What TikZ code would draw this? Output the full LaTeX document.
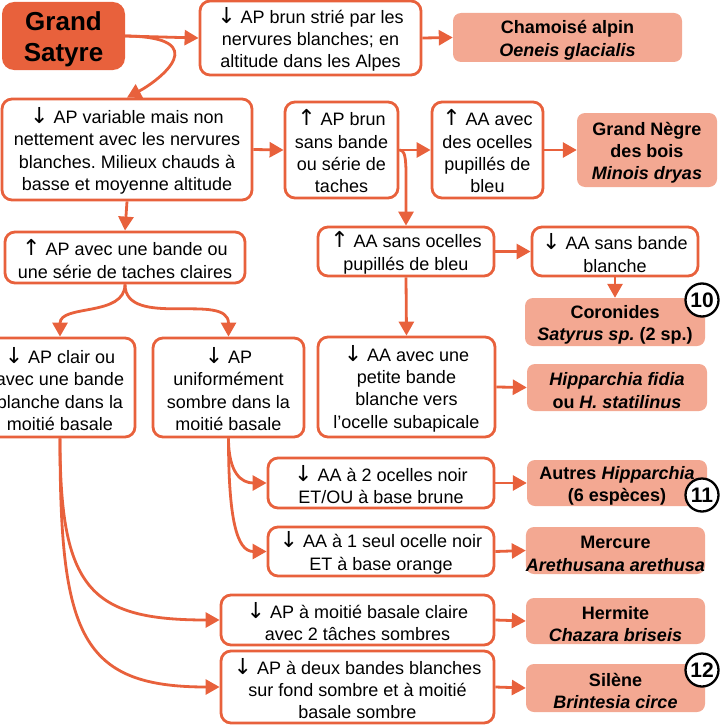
\documentclass[tikz,border=0pt]{standalone}
\usepackage{fontspec}
\setmainfont{Liberation Sans}
\newfontfamily\arrf{DejaVu Sans}
\frenchspacing
\newcommand{\tstrut}{\rule{0pt}{19pt}}
\newcommand{\dnar}{\tstrut\smash{\arrf\fontsize{22}{22.3}\selectfont ↓}}
\newcommand{\upar}{\tstrut\smash{\arrf\fontsize{22}{22.3}\selectfont ↑}}
\usetikzlibrary{arrows.meta}
\definecolor{orC}{HTML}{E8613C}
\definecolor{salC}{HTML}{F3A892}
\tikzset{
 qbox/.style={draw=orC, line width=2.8pt, rounded corners=10pt, fill=white, align=center, inner sep=0pt, font=\fontsize{18}{22.3}\selectfont},
 rbox/.style={fill=salC, rounded corners=8pt, align=center, inner sep=0pt, font=\bfseries\fontsize{18}{22.3}\selectfont},
 gsbox/.style={fill=orC, rounded corners=12pt, align=center, inner sep=0pt, font=\bfseries\fontsize{26}{31}\selectfont},
 sz/.style 2 args={minimum width=#1pt, minimum height=#2pt},
 arr/.style={draw=orC, line width=2.8pt, -{Triangle[length=14pt,width=15pt]}},
 num/.style={circle, draw=black, line width=2.3pt, fill=white, minimum size=33pt, inner sep=0pt, font=\bfseries\fontsize{21}{21}\selectfont}
}
\begin{document}
\begin{tikzpicture}[x=1pt,y=-1pt]
\clip (0,0) rectangle (721,725);
% nodes
\node[gsbox, sz={123}{68}] (GS) at (63.5,36) {\rule{0pt}{25pt}Grand\\Satyre};
\node[qbox, sz={221}{74}] (A1) at (310.5,38) {\dnar{} AP brun strié par les\\nervures blanches; en\\altitude dans les Alpes};
\node[rbox, sz={229}{49}] (CH) at (567.5,37.5) {\tstrut Chamoisé alpin\\\itshape Oeneis glacialis};
\node[qbox, sz={250}{101}] (B) at (127,149.5) {\dnar{} AP variable mais non\\nettement avec les nervures\\blanches. Milieux chauds à\\basse et moyenne altitude};
\node[qbox, sz={113}{96}] (C) at (341.5,150) {\upar{} AP brun\\sans bande\\ou série de\\taches};
\node[qbox, sz={111}{96}] (D) at (487.5,150) {\upar{} AA avec\\des ocelles\\pupillés de\\bleu};
\node[rbox, sz={140}{74}] (GN) at (647,150) {\tstrut Grand Nègre\\des bois\\\itshape Minois dryas};
\node[qbox, sz={240}{51}] (B2) at (125,257.5) {\upar{} AP avec une bande ou\\une série de taches claires};
\node[qbox, sz={176}{49}] (E) at (406,251.5) {\upar{} AA sans ocelles\\pupillés de bleu};
\node[qbox, sz={166}{49}] (F) at (615,251.5) {\dnar{} AA sans bande\\blanche};
\node[rbox, sz={180}{48}] (CO) at (615,322) {\tstrut Coronides\\{\itshape Satyrus sp.}\ (2 sp.)};
\node[qbox, sz={150}{99}] (I) at (60,387.5) {\dnar{} AP clair ou\\avec une bande\\blanche dans la\\moitié basale};
\node[qbox, sz={151}{99}] (J) at (228.5,387.5) {\dnar{} AP\\uniformément\\sombre dans la\\moitié basale};
\node[qbox, sz={177}{100}] (G) at (406.5,387) {\dnar{} AA avec une\\petite bande\\blanche vers\\l’ocelle subapicale};
\node[rbox, sz={180}{47}] (HF) at (617,387.5) {\tstrut{\itshape Hipparchia fidia}\\ou {\itshape H. statilinus}};
\node[qbox, sz={226}{50}] (K) at (381,483) {\dnar{} AA à 2 ocelles noir\\ET/OU à base brune};
\node[rbox, sz={180}{46}] (AH) at (617,483) {\tstrut Autres {\itshape Hipparchia}\\(6 espèces)};
\node[qbox, sz={226}{49}] (L) at (381,551.5) {\dnar{} AA à 1 seul ocelle noir\\ET à base orange};
\node[rbox, sz={179}{47}] (ME) at (615.5,550.5) {\tstrut Mercure\\\itshape Arethusana arethusa};
\node[qbox, sz={273}{50}] (M) at (357.5,620) {\dnar{} AP à moitié basale claire\\avec 2 tâches sombres};
\node[rbox, sz={179}{46}] (HE) at (615.5,621) {\tstrut Hermite\\\itshape Chazara briseis};
\node[qbox, sz={273}{72}] (N) at (357.5,687) {\dnar{} AP à deux bandes blanches\\sur fond sombre et à moitié\\basale sombre};
\node[rbox, sz={179}{48}] (SI) at (615.5,688) {\tstrut Silène\\\itshape Brintesia circe};
% connectors
\draw[arr] (GS.east) -- (A1.west);
\draw[arr] (A1.east) -- (CH.west);
\draw[arr] (GS.east) .. controls (215,37) and (160,80) .. (B.north);
\draw[arr] (B.east) -- (C.west);
\draw[arr] (C.east) -- (D.west);
\draw[arr] (D.east) -- (GN.west);
\draw[arr] (C.east) .. controls +(8,0) and +(0,-60) .. (E.north);
\draw[arr] (E.east) -- (F.west);
\draw[arr] (F.south) -- (CO.north);
\draw[arr] (E.south) -- (G.north);
\draw[arr] (G.east) -- (HF.west);
\draw[arr] (B.south) -- (B2.north);
\draw[arr] (B2.south) to[out=-90,in=90] (I.north);
\draw[arr] (B2.south) to[out=-90,in=90] (J.north);
\draw[arr] (I.south) .. controls +(0,150) and +(-130,0) .. (M.west);
\draw[arr] (I.south) .. controls +(0,195) and +(-140,0) .. (N.west);
\draw[arr] (J.south) .. controls +(0,35) and +(-25,0) .. (K.west);
\draw[arr] (J.south) .. controls +(0,80) and +(-30,0) .. (L.west);
\draw[arr] (K.east) -- (AH.west);
\draw[arr] (L.east) -- (ME.west);
\draw[arr] (M.east) -- (HE.west);
\draw[arr] (N.east) -- (SI.west);
% numbers
\node[num] (n10) at (702,300) {10};
\node[num] (n11) at (702,495) {11};
\node[num] (n12) at (702,670) {12};
\end{tikzpicture}
\end{document}
